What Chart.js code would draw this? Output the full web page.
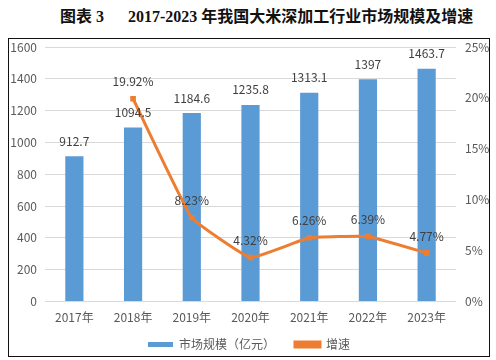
<!DOCTYPE html>
<html><head><meta charset="utf-8">
<script src="https://cdn.jsdelivr.net/npm/chart.js@4/dist/chart.umd.min.js"></script>
<style>
html,body{margin:0;padding:0;background:#fff;}
#title{position:absolute;left:0;top:3px;width:496px;height:24px;font:bold 16px "Liberation Serif","Noto Sans CJK SC",serif;color:#111;white-space:pre;}
#title span{position:absolute;top:0;}
#box{position:absolute;left:8px;top:38px;width:480px;height:317px;border:1.5px solid #111;}
canvas{display:block;}
</style></head><body>
<div id="title"><span style="left:60px">图表 3</span><span style="left:128px">2017-2023 年我国大米深加工行业市场规模及增速</span></div>
<div id="box"><canvas id="c" width="480" height="317"></canvas></div>
<script>
const categories = ["2017年","2018年","2019年","2020年","2021年","2022年","2023年"];
const marketSize = [912.7, 1094.5, 1184.6, 1235.8, 1313.1, 1397, 1463.7];
const growthRate = [null, 19.92, 8.23, 4.32, 6.26, 6.39, 4.77];
const sizeLabels = ["912.7","1094.5","1184.6","1235.8","1313.1","1397","1463.7"];
const growthLabels = [null,"19.92%","8.23%","4.32%","6.26%","6.39%","4.77%"];

const BLUE = "#5B9BD5", ORANGE = "#ED7D31", TXT = "#595959";
const FONT = '"Noto Sans CJK SC", "DejaVu Sans", sans-serif';

const labelPlugin = {
  id: "labels",
  beforeLayout(chart) {
    const lg = chart.legend;
    if (lg && !lg._wrapped) {
      const orig = lg.fit;
      lg.fit = function () { orig.call(this); this.height = 25.5; };
      lg._wrapped = true;
    }
  },
  afterLayout(chart) {
    const lg = chart.legend;
    if (lg) { lg.bottom = chart.height; lg.height = 37.5; lg.top = lg.bottom - lg.height; }
  },
  afterDatasetsDraw(chart) {
    const ctx = chart.ctx;
    ctx.save();
    ctx.font = "12px " + FONT;
    ctx.fillStyle = "#404040";
    ctx.textAlign = "center";
    ctx.textBaseline = "middle";
    chart.getDatasetMeta(0).data.forEach((b, i) => {
      ctx.fillText(sizeLabels[i], b.x, b.y - 15);
    });
    chart.getDatasetMeta(1).data.forEach((p, i) => {
      if (growthLabels[i] == null) return;
      ctx.fillText(growthLabels[i], p.x, p.y - 17);
    });
    ctx.restore();
  },
  afterDraw(chart) {
    const lg = chart.legend;
    if (!lg || !lg.legendHitBoxes || lg.legendHitBoxes.length < 2) return;
    const hb = lg.legendHitBoxes[1];
    const ctx = chart.ctx;
    const cx = hb.left + 12.5, cy = lg.top + 20 + 6;
    ctx.save();
    ctx.fillStyle = ORANGE;
    ctx.fillRect(cx - 3.5, cy - 3.5, 7, 7);
    ctx.restore();
  }
};

function vFit(w) {
  return function (s) { s.width = w; s.paddingTop = 0; s.paddingBottom = 0; };
}

new Chart(document.getElementById("c"), {
  data: {
    labels: categories,
    datasets: [
      { type: "bar", label: "市场规模（亿元）", data: marketSize, backgroundColor: BLUE,
        yAxisID: "y", categoryPercentage: 1, barPercentage: 0.31, order: 2 },
      { type: "line", label: "增速", data: growthRate, borderColor: ORANGE, backgroundColor: ORANGE,
        borderWidth: 3, pointStyle: "rect", pointRadius: 4, pointBackgroundColor: ORANGE,
        pointBorderWidth: 0, tension: 0.1, yAxisID: "y1", order: 1 }
    ]
  },
  options: {
    responsive: false, animation: false,
    layout: { padding: { top: 8, left: 0, right: 0, bottom: 0 } },
    scales: {
      x: { grid: { display: false, drawTicks: false }, border: { display: false },
           ticks: { color: TXT, font: { size: 12, family: FONT }, padding: 9 },
           afterFit(s) { s.height = 29; s.paddingLeft = 0; s.paddingRight = 0; } },
      y: { position: "left", min: 0, max: 1600, grid: { color: "#D9D9D9", drawTicks: false },
           border: { display: false },
           ticks: { stepSize: 200, color: TXT, font: { size: 12, family: FONT }, padding: 8,
                    callback: v => String(v) },
           afterFit: vFit(36) },
      y1: { position: "right", min: 0, max: 25, grid: { display: false, drawTicks: false }, border: { display: false },
            ticks: { stepSize: 5, color: TXT, font: { size: 12, family: FONT }, padding: 9,
                     callback: v => v + "%" },
            afterFit: vFit(33) }
    },
    plugins: {
      legend: { position: "bottom",
        labels: { color: TXT, font: { size: 12, family: FONT }, boxWidth: 25, boxHeight: 5, padding: 20,
                  sort: (a, b) => a.datasetIndex - b.datasetIndex } },
      tooltip: { enabled: false }
    }
  },
  plugins: [labelPlugin]
});
</script>
</body></html>
